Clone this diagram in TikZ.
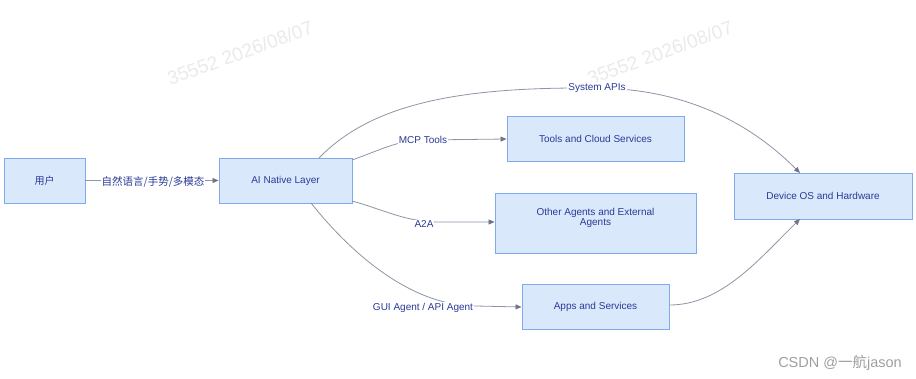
\documentclass[tikz,border=0pt]{standalone}
\usepackage{fontspec}
\setmainfont{Liberation Sans}
\newfontfamily\cjk{Noto Sans CJK SC}
\usetikzlibrary{arrows.meta}
\definecolor{txtblue}{RGB}{42,58,150}
\definecolor{boxfill}{RGB}{218,232,252}
\definecolor{boxline}{RGB}{128,170,240}
\definecolor{edgegray}{RGB}{140,148,165}
\definecolor{tipgray}{RGB}{110,118,135}
\definecolor{wmgray}{RGB}{234,234,234}
\tikzset{
  box/.style={draw=boxline, line width=0.9pt, fill=boxfill, text=txtblue, font=\fontsize{10}{12}\selectfont, align=center, inner sep=0pt},
  conn/.style={draw=edgegray, line width=0.8pt, -{Triangle[length=6pt,width=5pt,color=tipgray]}},
  lbl/.style={fill=white, text=txtblue, font=\fontsize{10}{12}\selectfont, inner sep=1pt},
  wm/.style={text=wmgray, font=\fontsize{19}{22}\selectfont, rotate=20},
}
\begin{document}
\begin{tikzpicture}[x=1pt,y=-1pt]
\useasboundingbox (0,0) rectangle (916,378);
\node[wm] (wm1) at (240,53) {35552 2026/08/07};
\node[wm] (wm2) at (660,53) {35552 2026/08/07};
\node[text=gray!75, font=\fontsize{14.5}{16}\selectfont] (csdn) at (840,363) {CSDN @{\cjk 一航}jason};

\node[box, minimum width=81pt, minimum height=45pt] (user) at (44.5,180.5) {{\cjk 用户}};
\node[box, minimum width=133pt, minimum height=45pt] (ai) at (285.5,180.5) {AI Native Layer};
\node[box, minimum width=177pt, minimum height=45pt] (tools) at (595.5,138.5) {Tools and Cloud Services};
\node[box, minimum width=201pt, minimum height=60pt] (other) at (595.5,223) {};
\node[text=txtblue, font=\fontsize{10}{10.5}\selectfont, align=center] (othertext) at (595.5,218) {Other Agents and External\\Agents};
\node[box, minimum width=147pt, minimum height=45pt] (apps) at (595.5,306.5) {Apps and Services};
\node[box, minimum width=178pt, minimum height=46pt] (dev) at (823,196) {Device OS and Hardware};

\coordinate (c1) at (423,140);
\coordinate (c2) at (597,88);
\coordinate (c3) at (440,222);
\coordinate (c4) at (476,306);

\draw[conn] (user.east) -- (ai.west);
\node[lbl, font=\cjk\fontsize{10.5}{13}\selectfont] (l0) at (153,182) {自然语言/手势/多模态};

\draw[conn] (352,160) .. controls (378,151) and (398,140) .. (c1) -- (tools.west |- 0,139);
\node[lbl] (l1) at (c1) {MCP Tools};

\draw[conn] (319,158) .. controls (375,100) and (470,87) .. (c2) .. controls (700,89) and (762,135) .. (800,173);
\node[lbl] (l2) at (c2) {System APIs};

\draw[conn] (352,201) .. controls (385,210) and (405,222) .. (c3) -- (other.west |- 0,222);
\node[lbl] (l3) at (424,224) {A2A};

\draw[conn] (311,203) .. controls (350,252) and (410,306) .. (c4) -- (apps.west |- 0,307);
\node[lbl] (l4) at (423,308) {GUI Agent / API Agent};

\draw[conn] (apps.east |- 0,305) .. controls (722,305) and (760,258) .. (800,219);
\end{tikzpicture}
\end{document}
